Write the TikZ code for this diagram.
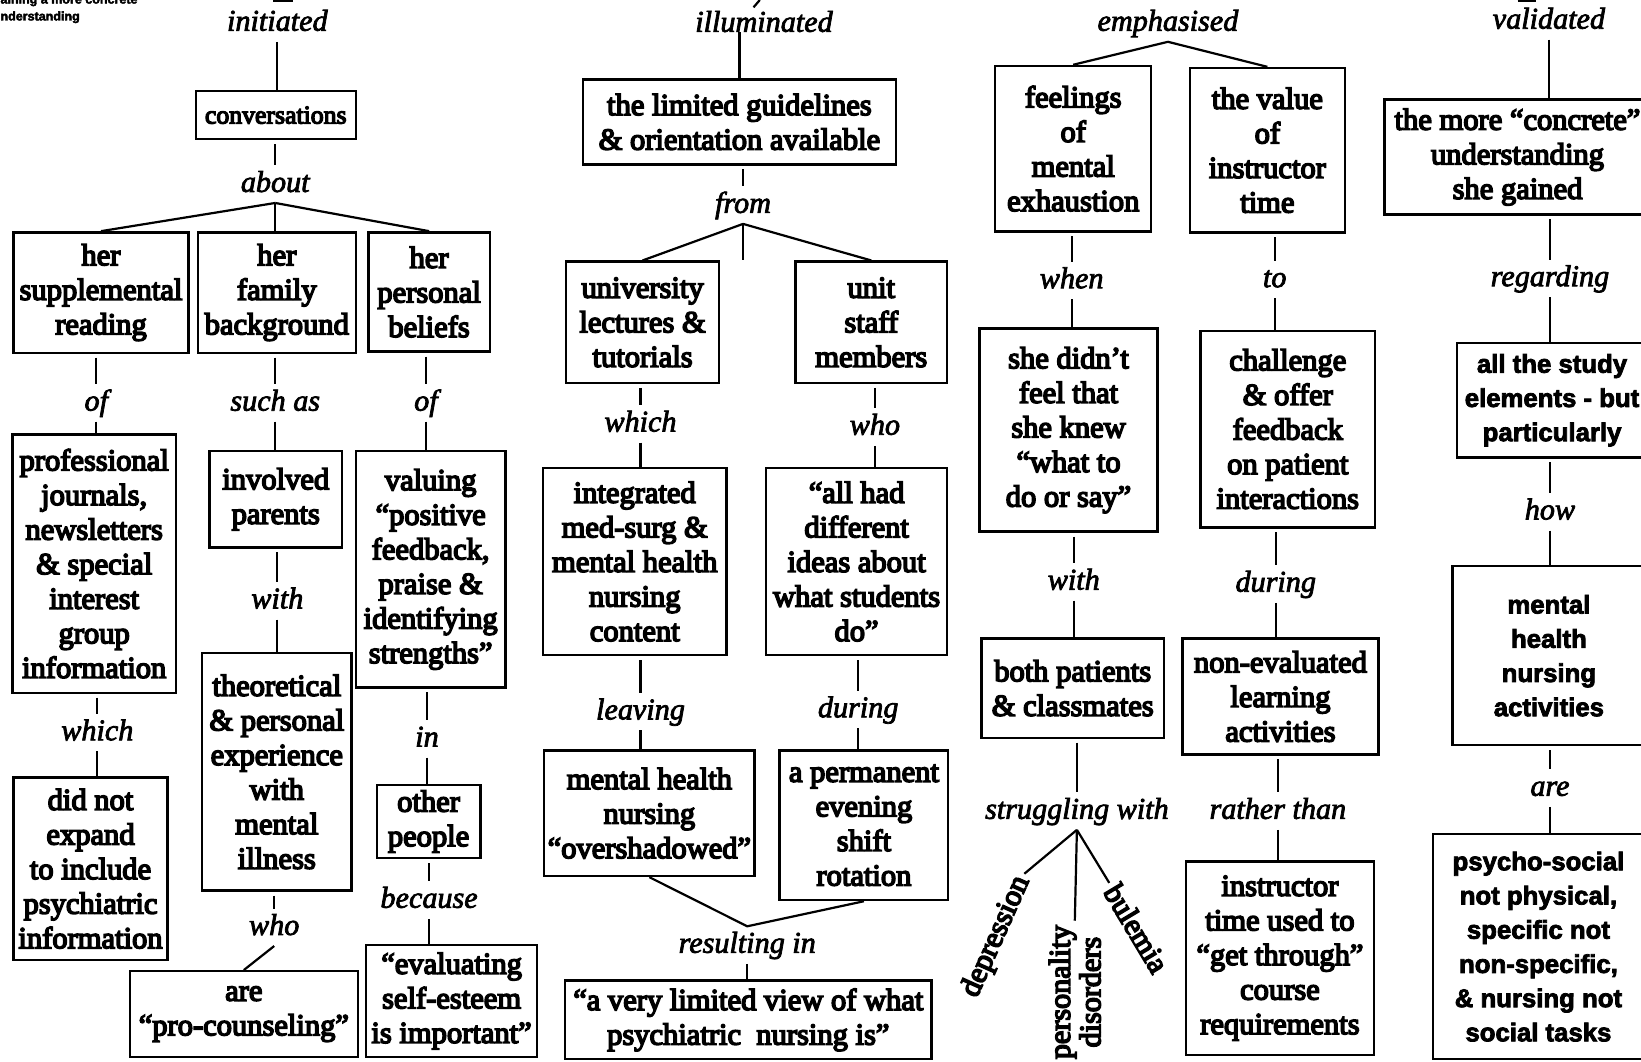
\documentclass[tikz,border=0pt]{standalone}
\usepackage{fontspec}
\usetikzlibrary{calc}
\newfontfamily\boxfont{Liberation Serif}[FakeBold=5]
\newfontfamily\labfont{Liberation Serif}[FakeBold=2.5]
\newfontfamily\sansbox{Liberation Sans}[FakeBold=3]

\tikzset{
  box/.style={draw, line width=0.65pt, inner sep=0pt, align=center,
    font=\boxfont\fontsize{8.3}{9.4}\selectfont},
  sbox/.style={box, font=\sansbox\bfseries\fontsize{7}{9.3}\selectfont},
  sz/.style 2 args={minimum width=#1*0.1mm, minimum height=#2*0.1mm},
  lab/.style={inner sep=1pt, text height=6pt, text depth=1.8pt,
    font=\labfont\itshape\fontsize{8.2}{9.4}\selectfont},
  link/.style={line width=0.6pt},
  rot/.style={inner sep=1pt, align=center, font=\boxfont\fontsize{8.2}{8.3}\selectfont},
  frag/.style={inner sep=0pt, align=left, font=\sansbox\bfseries\fontsize{3.4}{4.6}\selectfont}
}

% box -> label -> box, vertical
\newcommand\chainlink[3]{%
  \draw[link, shorten <=1pt] (#2.north |- #1.south) -- (#2.north);
  \draw[link] (#2.south) -- (#2.south |- #3.north);}

\begin{document}
\begin{tikzpicture}[x=0.1mm, y=-0.1mm]
    \useasboundingbox (0,0) rectangle (1568,1014);
    \clip (0,0) rectangle (1568,1014);
    \fill[white] (0,0) rectangle (1568,1014);

    % Cut-off pieces along the top edge
    \node[frag, anchor=north west] (frag) at (-7.5,-6) {gaining a more concrete\\understanding};
    \draw[link] (261,1) -- (280,1);
    \draw[link] (726,0) -- (720,7);
    \draw[link] (1450,1) -- (1468,1);

    % Left tree
    \node[lab] (init) at (265,22) {initiated};
    \node[box, sz={153}{46}, font=\boxfont\fontsize{7}{8}\selectfont] (conv) at (263.5,110) {conversations};
    \node[lab] (about) at (263,176) {about};
    \node[box, sz={167}{115}] (supp) at (96.5,279.5) {her\\supplemental\\reading};
    \node[box, sz={151}{115}] (fam) at (264.5,279.5) {her\\family\\background};
    \node[box, sz={116}{114}] (pers) at (410,279) {her\\personal\\beliefs};
    \node[lab] (of1) at (92,385) {of};
    \node[lab] (such) at (263,385) {such as};
    \node[lab] (of2) at (407,385) {of};
    \node[box, sz={156}{247}] (prof) at (90,538.5) {professional\\journals,\\newsletters\\\& special\\interest\\group\\information};
    \node[box, sz={127}{92}] (invp) at (263.5,477) {involved\\parents};
    \node[box, sz={143}{226}] (valu) at (411.5,544) {valuing\\“positive\\feedback,\\praise \&\\identifying\\strengths”};
    \node[lab] (which1) at (93,700) {which};
    \node[lab] (with1) at (265,574) {with};
    \node[lab] (in1) at (408,706) {in};
    \node[box, sz={147}{174}] (dnot) at (86.5,830) {did not\\expand\\to include\\psychiatric\\information};
    \node[box, sz={143}{227}] (theo) at (264.5,737.5) {theoretical\\\& personal\\experience\\with\\mental\\illness};
    \node[box, sz={99}{70}] (oth) at (409.5,785) {other\\people};
    \node[lab] (who1) at (262,886) {who};
    \node[lab] (because) at (410,860) {because};
    \node[box, sz={218}{82}] (pro) at (233,969) {are\\“pro-counseling”};
    \node[box, sz={163}{107}] (eval) at (431.5,956.5) {“evaluating\\self-esteem\\is important”};

    \draw[link] (init.south) -- (init.south |- conv.north);
    \chainlink{conv}{about}{fam}
    \draw[link] (about.south) -- (supp.north);
    \draw[link] (about.south) -- (pers.north);
    \chainlink{supp}{of1}{prof}
    \chainlink{fam}{such}{invp}
    \chainlink{pers}{of2}{valu}
    \chainlink{prof}{which1}{dnot}
    \chainlink{invp}{with1}{theo}
    \chainlink{valu}{in1}{oth}
    \chainlink{oth}{because}{eval}
    \draw[link, shorten <=1pt] (who1.north |- theo.south) -- (who1.north);
    \draw[link] (who1.south) -- (pro.north);

    % Middle tree
    \node[lab] (illum) at (730,23) {illuminated};
    \node[box, sz={299}{81}] (lim) at (706.5,116.5) {the limited guidelines\\\& orientation available};
    \node[lab] (from) at (710,196) {from};
    \node[box, sz={146}{116}] (univ) at (614,308) {university\\lectures \&\\tutorials};
    \node[box, sz={145}{116}] (unit) at (832.5,308) {unit\\staff\\members};
    \node[lab] (which2) at (612,405) {which};
    \node[lab] (who2) at (836,408) {who};
    \node[box, sz={175}{179}] (integ) at (606.5,536.5) {integrated\\med-surg \&\\mental health\\nursing\\content};
    \node[box, sz={173}{179}] (allh) at (818.5,536.5) {“all had\\different\\ideas about\\what students\\do”};
    \node[lab] (leaving) at (612,680) {leaving};
    \node[lab] (during1) at (820,678) {during};
    \node[box, sz={201}{120}] (mhn) at (620.5,777) {mental health\\nursing\\“overshadowed”};
    \node[box, sz={161}{143}] (eve) at (825.5,788.5) {a permanent\\evening\\shift\\rotation};
    \node[lab] (res) at (714,903) {resulting in};
    \node[box, sz={350}{75}] (view) at (715,974.5) {“a very limited view of what\\psychiatric\ \ nursing is”};

    \draw[link] (lim.north |- illum.base) -- (lim.north);
    \chainlink{lim}{from}{univ}
    \draw[link] (from.south) -- (univ.north);
    \draw[link] (from.south) -- (unit.north);
    \chainlink{univ}{which2}{integ}
    \chainlink{unit}{who2}{allh}
    \chainlink{integ}{leaving}{mhn}
    \chainlink{allh}{during1}{eve}
    \draw[link] (mhn.south) -- (res.north) -- (eve.south);
    \draw[link] (res.south) -- (res.south |- view.north);

    % Third tree
    \node[lab] (emph) at (1116,22) {emphasised};
    \node[box, sz={149}{158}] (feel) at (1025.5,142) {feelings\\of\\mental\\exhaustion};
    \node[box, sz={148}{157}] (valt) at (1211,143.5) {the value\\of\\instructor\\time};
    \node[lab] (when) at (1024,268) {when};
    \node[lab] (to) at (1218,267) {to};
    \node[box, sz={170}{194}] (didn) at (1021,411) {she didn’t\\feel that\\she knew\\“what to\\do or say”};
    \node[box, sz={167}{188}] (chal) at (1230.5,410) {challenge\\\& offer\\feedback\\on patient\\interactions};
    \node[lab] (with2) at (1026,556) {with};
    \node[lab] (during2) at (1219,558) {during};
    \node[box, sz={174}{95}] (both) at (1025,657.5) {both patients\\\& classmates};
    \node[box, sz={187}{111}] (none) at (1223.5,665.5) {non-evaluated\\learning\\activities};
    \node[lab] (strug) at (1029,775) {struggling with};
    \node[lab] (rather) at (1221,775) {rather than};
    \node[rot, rotate=66] (depr) at (952,895) {depression};
    \node[rot, rotate=90] (pdis) at (1027,948) {personality\\disorders};
    \node[rot, rotate=-59] (bul) at (1086,887) {bulemia};
    \node[box, sz={180}{185}] (inst) at (1223,915.5) {instructor\\time used to\\“get through”\\course\\requirements};

    \draw[link] (emph.south) -- (feel.north);
    \draw[link] (emph.south) -- (valt.north);
    \chainlink{feel}{when}{didn}
    \chainlink{valt}{to}{chal}
    \chainlink{didn}{with2}{both}
    \chainlink{chal}{during2}{none}
    \draw[link, shorten <=1pt] (strug.north |- both.south) -- (strug.north);
    \draw[link] (strug.south) -- (depr.east);
    \draw[link] (strug.south) -- (pdis.east);
    \draw[link] (strug.south) -- (bul.west);
    \chainlink{none}{rather}{inst}

    % Right tree
    \node[lab] (valid) at (1480,20) {validated};
    \node[box, sz={254}{110}] (conc) at (1450,150) {the more “concrete”\\understanding\\she gained};
    \node[lab] (regard) at (1481,266) {regarding};
    \node[sbox, sz={182}{109}] (stud) at (1483,382.5) {all the study\\elements - but\\particularly};
    \node[lab] (how) at (1481,489) {how};
    \node[sbox, sz={184}{171}] (mhna) at (1480,626.5) {mental\\health\\nursing\\activities};
    \node[lab] (are) at (1481,753) {are};
    \node[sbox, sz={202}{215}] (psy) at (1470,904.5) {psycho-social\\not physical,\\specific not\\non-specific,\\\& nursing not\\social tasks};

    \draw[link] (valid.south) -- (valid.south |- conc.north);
    \chainlink{conc}{regard}{stud}
    \chainlink{stud}{how}{mhna}
    \chainlink{mhna}{are}{psy}
\end{tikzpicture}
\end{document}
